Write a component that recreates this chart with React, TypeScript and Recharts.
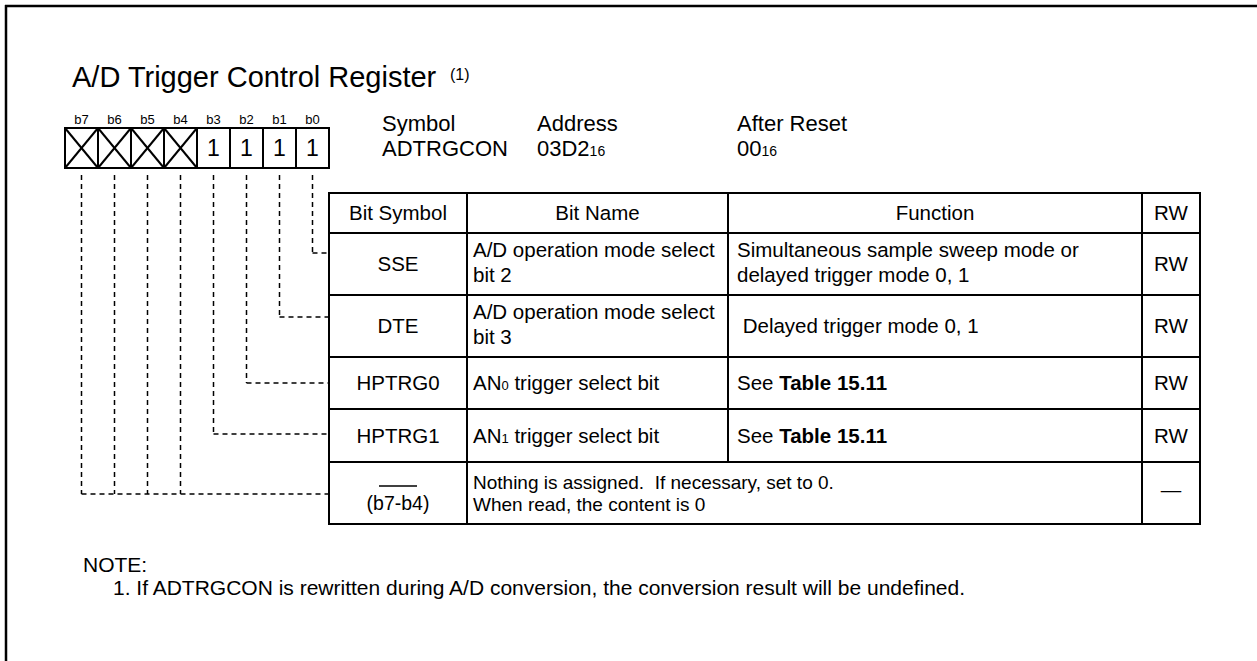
import React from 'react';
import { BarChart, Bar, XAxis, YAxis, Customized } from 'recharts';

// ---------- data ----------
const registerTitle = 'A/D Trigger Control Register';
const titleNote = '(1)';
const bitLabels = ['b7', 'b6', 'b5', 'b4', 'b3', 'b2', 'b1', 'b0'];
const bitValues = ['X', 'X', 'X', 'X', '1', '1', '1', '1']; // X = no bit assigned
const infoHeaders = ['Symbol', 'Address', 'After Reset'];
const infoValues = ['ADTRGCON', '03D2_{16}', '00_{16}'];
const tableHeaders = ['Bit Symbol', 'Bit Name', 'Function', 'RW'];
const rowSymbols = ['SSE', 'DTE', 'HPTRG0', 'HPTRG1', '(b7-b4)'];
const rowBits = [['b0'], ['b1'], ['b2'], ['b3'], ['b7', 'b6', 'b5', 'b4']];
const rowNames = [
  ['A/D operation mode select', 'bit 2'],
  ['A/D operation mode select', 'bit 3'],
  ['AN_{0} trigger select bit'],
  ['AN_{1} trigger select bit'],
  [],
];
const rowFunctions = [
  ['Simultaneous sample sweep mode or', 'delayed trigger mode 0, 1'],
  [' Delayed trigger mode 0, 1'],
  ['See **Table 15.11**'],
  ['See **Table 15.11**'],
  ['Nothing is assigned.  If necessary, set to 0.', 'When read, the content is 0'],
];
const rowRW = ['RW', 'RW', 'RW', 'RW', '—'];
const noteTitle = 'NOTE:';
const notes = ['1. If ADTRGCON is rewritten during A/D conversion, the conversion result will be undefined.'];

const bitData = bitLabels.map((bit, i) => ({ bit, value: bitValues[i], cell: 1 }));

// ---------- layout ----------
const W = 1257;
const H = 661;
const FONT = '"Liberation Sans", Arial, Helvetica, sans-serif';
const COLS = [329, 467, 728, 1142, 1200];
const ROWS = [193, 233, 295, 357, 409, 462, 524];
const CONNECTOR_Y = [253, 317, 383, 434, 494];
const INFO_X = [382, 537, 737];
const BOX_TOP = 128;
const BOX_BOTTOM = 168;
const BOX_LEFT = 65;
const BOX_RIGHT = 329;
const AXIS_H = 20;
const TF = 20.5; // table font size
const TF_LAST = 19; // font of the merged last row

function rich(str: string, size: number) {
  const parts = str.split(/(_\{[^}]*\}|\*\*[^*]*\*\*)/).filter((s) => s !== '');
  return parts.map((p, i) => {
    if (p.startsWith('_{')) {
      return (
        <tspan key={i} fontSize={Math.round(size * 0.65)}>
          {p.slice(2, -1)}
        </tspan>
      );
    }
    if (p.startsWith('**')) {
      return (
        <tspan key={i} fontWeight="bold">
          {p.slice(2, -2)}
        </tspan>
      );
    }
    return <tspan key={i}>{p}</tspan>;
  });
}

function TextLine({ x, y, s, size, anchor = 'start' }: any) {
  return (
    <text x={x} y={y} fontSize={size} textAnchor={anchor} fill="#000" style={{ whiteSpace: 'pre' }} fontFamily={FONT}>
      {rich(s, size)}
    </text>
  );
}

function BitCell(props: any) {
  const { x, y, width, height, payload } = props;
  const cx = x + width / 2;
  const bit = payload.bit;
  const r = rowBits.findIndex((g) => g.includes(bit));
  const ty = CONNECTOR_Y[r];
  const group = rowBits[r];
  const leftmost = group.reduce((m, b) => Math.min(m, bitLabels.indexOf(b)), 99) === bitLabels.indexOf(bit);
  return (
    <g>
      <rect x={x} y={y} width={width} height={height} fill="#fff" stroke="#000" strokeWidth={2} />
      {payload.value === 'X' ? (
        <g stroke="#000" strokeWidth={2}>
          <line x1={x} y1={y} x2={x + width} y2={y + height} />
          <line x1={x + width} y1={y} x2={x} y2={y + height} />
        </g>
      ) : (
        <text x={cx} y={y + height / 2 + 8} textAnchor="middle" fontSize={23} fontFamily={FONT} fill="#000">
          {payload.value}
        </text>
      )}
      <g stroke="#000" strokeWidth={1.5} strokeDasharray="5 4" fill="none">
        <line x1={cx} y1={y + height + 7} x2={cx} y2={ty} />
        {leftmost && <line x1={cx} y1={ty} x2={COLS[0]} y2={ty} />}
      </g>
    </g>
  );
}

function Overlay() {
  const centerX = (c: number) => (COLS[c] + COLS[c + 1]) / 2;
  const rowC = (r: number) => (ROWS[r + 1] + ROWS[r + 2]) / 2;
  const last = rowSymbols.length - 1;
  return (
    <g fontFamily={FONT}>
      {/* frame */}
      <line x1={5} y1={6} x2={W} y2={6} stroke="#000" strokeWidth={2.5} />
      <line x1={6} y1={5} x2={6} y2={H} stroke="#000" strokeWidth={2.5} />

      {/* title */}
      <text x={72} y={87} fontSize={29} fill="#000">
        {registerTitle}
      </text>
      <text x={450} y={80} fontSize={16} fill="#000">
        {titleNote}
      </text>

      {/* symbol / address / reset */}
      {infoHeaders.map((h, i) => (
        <g key={h}>
          <TextLine x={INFO_X[i]} y={131} s={h} size={22} />
          <TextLine x={INFO_X[i]} y={156} s={infoValues[i]} size={22} />
        </g>
      ))}

      {/* table grid */}
      <g stroke="#000" strokeWidth={2} fill="none">
        <rect x={COLS[0]} y={ROWS[0]} width={COLS[4] - COLS[0]} height={ROWS[6] - ROWS[0]} />
        {ROWS.slice(1, 6).map((yy) => (
          <line key={yy} x1={COLS[0]} y1={yy} x2={COLS[4]} y2={yy} />
        ))}
        <line x1={COLS[1]} y1={ROWS[0]} x2={COLS[1]} y2={ROWS[6]} />
        <line x1={COLS[2]} y1={ROWS[0]} x2={COLS[2]} y2={ROWS[5]} />
        <line x1={COLS[3]} y1={ROWS[0]} x2={COLS[3]} y2={ROWS[6]} />
      </g>

      {/* header */}
      {tableHeaders.map((h, i) => (
        <TextLine key={h} x={centerX(i)} y={(ROWS[0] + ROWS[1]) / 2 + 7} s={h} size={TF} anchor="middle" />
      ))}

      {/* rows */}
      {rowSymbols.map((sym, r) => {
        const c = rowC(r);
        const isLast = r === last;
        const lines = (arr: string[], x: number) =>
          arr.map((s, k) => (
            <TextLine
              key={k}
              x={x}
              y={isLast ? c - 4 + k * 22 : arr.length === 1 ? c + 7 : c - 7 + k * 25}
              s={s}
              size={isLast ? TF_LAST : TF}
            />
          ));
        return (
          <g key={sym}>
            {isLast ? (
              <g>
                <line x1={centerX(0) - 19} y1={486} x2={centerX(0) + 19} y2={486} stroke="#000" strokeWidth={1.5} />
                <TextLine x={centerX(0)} y={510} s={sym} size={TF_LAST + 0.5} anchor="middle" />
              </g>
            ) : (
              <TextLine x={centerX(0)} y={c + 7} s={sym} size={TF} anchor="middle" />
            )}
            {lines(rowNames[r], COLS[1] + 6)}
            {lines(rowFunctions[r], isLast ? COLS[1] + 6 : COLS[2] + 9)}
            <TextLine x={centerX(3)} y={c + (isLast ? 4 : 7)} s={rowRW[r]} size={TF} anchor="middle" />
          </g>
        );
      })}

      {/* notes */}
      <TextLine x={83} y={572} s={noteTitle} size={21} />
      {notes.map((n, i) => (
        <TextLine key={i} x={113} y={595 + i * 23} s={n} size={21} />
      ))}
    </g>
  );
}

export default function App() {
  return (
    <div style={{ position: 'absolute', left: 0, top: 0, width: W, height: H, background: '#fff' }}>
      <BarChart
        width={W}
        height={H}
        data={bitData}
        margin={{ top: BOX_TOP - AXIS_H, left: BOX_LEFT, right: W - BOX_RIGHT, bottom: H - BOX_BOTTOM }}
        barCategoryGap={0}
        barGap={0}
      >
        <Customized component={<Overlay />} />
        <XAxis
          dataKey="bit"
          orientation="top"
          height={AXIS_H}
          axisLine={false}
          tickLine={false}
          tickSize={0}
          tickMargin={4}
          interval={0}
          tick={(p: any) => (
            <text x={p.x} y={p.y} textAnchor="middle" fontSize={13} fontFamily={FONT} fill="#000">
              {p.payload.value}
            </text>
          )}
        />
        <YAxis hide domain={[0, 1]} />
        <Bar dataKey="cell" isAnimationActive={false} shape={(p: any) => <BitCell {...p} />} />
      </BarChart>
    </div>
  );
}
